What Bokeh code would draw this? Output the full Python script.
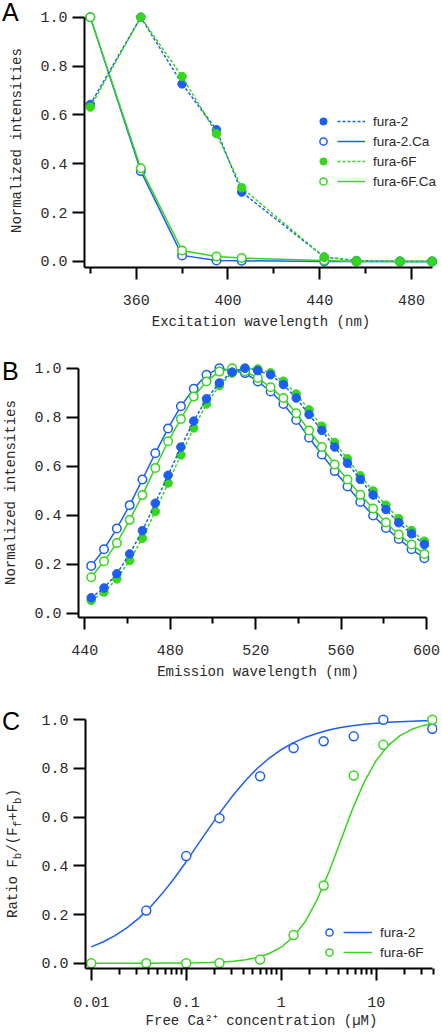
from bokeh.plotting import figure
from bokeh.models import (Range1d, FixedTicker, Legend, LegendItem,
                          CustomJSTickFormatter, Div)
from bokeh.layouts import column, row
from bokeh.embed import file_html
from bokeh.resources import INLINE

# ---------------- data ----------------
# Panel A: excitation spectra
ex_wl = [340, 362, 380, 395, 406, 442, 456, 475, 489]
ex_fura2 = [0.643, 1.0, 0.727, 0.539, 0.284, 0.018, 0.004, 0.0, 0.0]
ex_fura2_ca = [1.0, 0.370, 0.025, 0.004, 0.003, 0.0, 0.0, 0.0, 0.0]
ex_fura6f = [0.632, 1.0, 0.757, 0.523, 0.302, 0.018, 0.003, 0.0, 0.0]
ex_fura6f_ca = [1.0, 0.382, 0.045, 0.020, 0.014, 0.004, 0.0, 0.0, 0.0]

# Panel B: emission spectra
em_wl = [443, 449, 455, 461, 467, 473, 479, 485, 491, 497, 503, 509, 515, 521,
         527, 533, 539, 545, 551, 557, 563, 569, 575, 581, 587, 593, 599]
em_fura2 = [0.063, 0.103, 0.161, 0.242, 0.337, 0.449, 0.563, 0.678, 0.784, 0.875,
            0.940, 0.984, 1.0, 0.990, 0.973, 0.933, 0.878, 0.811, 0.746, 0.678,
            0.612, 0.546, 0.482, 0.423, 0.369, 0.324, 0.280]
em_fura2_ca = [0.193, 0.261, 0.346, 0.441, 0.546, 0.653, 0.754, 0.845, 0.916, 0.973,
               1.0, 0.990, 0.980, 0.946, 0.905, 0.854, 0.789, 0.716, 0.648, 0.580,
               0.517, 0.454, 0.399, 0.348, 0.303, 0.261, 0.224]
em_fura6f = [0.052, 0.086, 0.140, 0.215, 0.306, 0.415, 0.531, 0.646, 0.756, 0.854,
             0.929, 0.980, 1.0, 0.997, 0.981, 0.947, 0.895, 0.830, 0.763, 0.697,
             0.630, 0.561, 0.499, 0.441, 0.386, 0.337, 0.294]
em_fura6f_ca = [0.147, 0.212, 0.286, 0.381, 0.482, 0.593, 0.702, 0.793, 0.884, 0.946,
                0.986, 1.0, 0.988, 0.960, 0.922, 0.878, 0.816, 0.746, 0.678, 0.607,
                0.546, 0.483, 0.427, 0.370, 0.321, 0.280, 0.242]

# Panel C: calcium titration
conc_fura2 = [0.038, 0.1, 0.224, 0.6, 1.35, 2.8, 5.8, 11.9, 39.0]
ratio_fura2 = [0.216, 0.440, 0.596, 0.768, 0.884, 0.912, 0.932, 1.0, 0.963]
conc_fura6f = [0.01, 0.038, 0.1, 0.224, 0.6, 1.35, 2.8, 5.8, 11.9, 39.0]
ratio_fura6f = [0.0, 0.0, 0.0, 0.001, 0.015, 0.116, 0.319, 0.771, 0.897, 1.0]

fit_conc = [0.01, 0.0133, 0.0178, 0.0237, 0.0316, 0.0422, 0.0562, 0.075, 0.1, 0.133,
            0.178, 0.237, 0.316, 0.422, 0.562, 0.75, 1.0, 1.33, 1.78, 2.37, 3.16,
            4.22, 5.62, 7.5, 10.0, 13.3, 17.8, 23.7, 31.6, 39.4]
fit_fura2 = [0.067, 0.087, 0.113, 0.145, 0.184, 0.232, 0.287, 0.349, 0.417, 0.488,
             0.560, 0.629, 0.693, 0.751, 0.801, 0.843, 0.877, 0.905, 0.927, 0.944,
             0.958, 0.968, 0.976, 0.982, 0.986, 0.990, 0.992, 0.994, 0.996, 0.997]
fit_fura6f = [0.0, 0.0, 0.0, 0.0001, 0.0001, 0.0002, 0.0004, 0.0006, 0.001, 0.0017,
              0.0029, 0.0049, 0.0083, 0.014, 0.0237, 0.0397, 0.0657, 0.107, 0.169, 0.258,
              0.372, 0.502, 0.632, 0.745, 0.833, 0.894, 0.935, 0.961, 0.977, 0.985]

y_ticks = [0.0, 0.2, 0.4, 0.6, 0.8, 1.0]
a_x_ticks = [360, 400, 440, 480]
a_x_minor = [340, 380, 420, 460]
b_x_ticks = [440, 480, 520, 560, 600]
b_x_minor = [460, 500, 540, 580]
c_x_ticks = [0.01, 0.1, 1, 10]

# ---------------- style ----------------
BLUE = "#1d5ef2"
GREEN = "#36d61c"
MONO = "Liberation Mono"
SANS = "Liberation Sans"
TXT = "#2a2a2a"
W = 442
STRIP = 26          # left strip holding panel letter and y-axis title
MAIN_W = W - STRIP


def make_fig(height, xr, yr, left, top, bottom, right=5, x_axis_type="linear"):
    p = figure(width=MAIN_W, height=height, x_range=xr, y_range=yr,
               x_axis_type=x_axis_type, output_backend="svg",
               toolbar_location=None, min_border_left=left,
               min_border_right=right, min_border_top=top,
               min_border_bottom=bottom)
    p.grid.visible = False
    p.outline_line_color = None
    p.background_fill_color = "white"
    p.border_fill_color = "white"
    for ax in p.axis:
        ax.axis_line_width = 2
        ax.axis_line_color = "black"
        ax.major_tick_line_width = 2
        ax.minor_tick_line_width = 2
        ax.major_tick_line_color = "black"
        ax.minor_tick_line_color = "black"
        ax.major_tick_in = 0
        ax.major_tick_out = 12
        ax.minor_tick_in = 0
        ax.minor_tick_out = 6
        ax.major_label_text_font = MONO
        ax.major_label_text_font_size = "15px"
        ax.major_label_text_color = TXT
        ax.axis_label_text_font = MONO
        ax.axis_label_text_font_size = "14px"
        ax.axis_label_text_font_style = "normal"
        ax.axis_label_text_color = TXT
    p.yaxis.minor_tick_line_color = None
    p.yaxis.ticker = FixedTicker(ticks=y_ticks)
    p.yaxis.formatter = CustomJSTickFormatter(code="return tick.toFixed(1);")
    p.yaxis.major_label_standoff = 5
    return p


def letter_html(txt, baseline):
    # 25px sans, line-height 25px: baseline sits ~21px below the box top
    return (f'<span style="position:absolute;left:2px;top:{baseline - 21}px;'
            f"font-family:'{SANS}';font-size:25px;line-height:25px;color:#000;"
            f'white-space:nowrap;">{txt}</span>')


def vtitle_html(inner, baseline_x, bottom_y):
    # rotated (reads bottom-to-top); 14px mono with 14px line: baseline ~10.7px into the box
    return (f'<span style="position:absolute;left:{baseline_x - 10.7:.1f}px;'
            f'top:{bottom_y}px;transform-origin:0 0;transform:rotate(-90deg);'
            f"white-space:nowrap;font-family:'{MONO}';font-size:14px;"
            f'line-height:14px;color:{TXT};">{inner}</span>')


def strip_div(height, parts):
    html = (f'<div style="position:relative;width:{STRIP}px;height:{height}px;'
            f'overflow:visible;">' + "".join(parts) + "</div>")
    return Div(text=html, width=STRIP, height=height, margin=0)


def split_legend(p, entries, mx, lx, y, line_w):
    lm = Legend(items=[LegendItem(label=" ", renderers=[s]) for _, s, _ in entries],
                location=(mx, y), glyph_width=18, glyph_height=18, label_height=18,
                label_width=0, spacing=2, padding=0, margin=0, label_standoff=0,
                border_line_alpha=0, background_fill_alpha=0,
                label_text_font=SANS, label_text_font_size="13.5px")
    ll = Legend(items=[LegendItem(label=lab, renderers=[l]) for lab, _, l in entries],
                location=(lx, y), glyph_width=line_w, glyph_height=18, label_height=18,
                spacing=2, padding=0, margin=0, label_standoff=8,
                border_line_alpha=0, background_fill_alpha=0,
                label_text_font=SANS, label_text_font_size="13.5px",
                label_text_color=TXT)
    p.add_layout(lm)
    p.add_layout(ll)


# ---------------- Panel A ----------------
HA = 336
pA = make_fig(HA, Range1d(337.46, 491.34), Range1d(-0.0246, 1.0233),
              left=84 - STRIP, top=11, bottom=69)
pA.xaxis.ticker = FixedTicker(ticks=a_x_ticks, minor_ticks=a_x_minor)
pA.xaxis.bounds = (337.46, 489.3)
pA.yaxis.bounds = (-0.0246, 1.0)
pA.xaxis.axis_label = "Excitation wavelength (nm)"
pA.xaxis.major_label_standoff = 15
pA.xaxis.axis_label_standoff = 6

la2c = pA.line(ex_wl, ex_fura2_ca, line_color=BLUE, line_width=1.5)
sa2c = pA.scatter(ex_wl, ex_fura2_ca, size=8.5, fill_color="white",
                  line_color=BLUE, line_width=1.5)
la6c = pA.line(ex_wl, ex_fura6f_ca, line_color=GREEN, line_width=1.5)
sa6c = pA.scatter(ex_wl, ex_fura6f_ca, size=8.5, fill_color="white",
                  line_color=GREEN, line_width=1.5)
la2 = pA.line(ex_wl, ex_fura2, line_color=BLUE, line_width=1.5, line_dash="3 2")
sa2 = pA.scatter(ex_wl, ex_fura2, size=8.5, fill_color=BLUE, line_color=BLUE)
la6 = pA.line(ex_wl, ex_fura6f, line_color=GREEN, line_width=1.5, line_dash="3 2")
sa6 = pA.scatter(ex_wl, ex_fura6f, size=8.5, fill_color=GREEN, line_color=GREEN)

split_legend(pA, [("fura-2", sa2, la2), ("fura-2.Ca", sa2c, la2c),
                  ("fura-6F", sa6, la6), ("fura-6F.Ca", sa6c, la6c)],
             mx=230, lx=253, y=77, line_w=28)

sA = strip_div(HA, [letter_html("A", 21),
                    vtitle_html("Normalized intensities", 20.5, 233)])

# ---------------- Panel B ----------------
HB = 354
pB = make_fig(HB, Range1d(437.05, 605.15), Range1d(-0.0176, 1.0314),
              left=78 - STRIP, top=24, bottom=73)
pB.xaxis.ticker = FixedTicker(ticks=b_x_ticks, minor_ticks=b_x_minor)
pB.xaxis.bounds = (437.05, 600)
pB.yaxis.bounds = (-0.0176, 1.0)
pB.xaxis.axis_label = "Emission wavelength (nm)"
pB.xaxis.major_label_standoff = 15
pB.xaxis.axis_label_standoff = 6

pB.line(em_wl, em_fura2_ca, line_color=BLUE, line_width=1.5)
pB.scatter(em_wl, em_fura2_ca, size=8.5, fill_color="white", line_color=BLUE, line_width=1.5)
pB.line(em_wl, em_fura6f_ca, line_color=GREEN, line_width=1.5)
pB.scatter(em_wl, em_fura6f_ca, size=8.5, fill_color="white", line_color=GREEN, line_width=1.5)
pB.line(em_wl, em_fura6f, line_color=GREEN, line_width=1.5, line_dash="3 2")
pB.scatter(em_wl, em_fura6f, size=8.5, fill_color=GREEN, line_color=GREEN)
pB.line(em_wl, em_fura2, line_color=BLUE, line_width=1.5, line_dash="3 2")
pB.scatter(em_wl, em_fura2, size=8.5, fill_color=BLUE, line_color=BLUE)

sB = strip_div(HB, [letter_html("B", 44),
                    vtitle_html("Normalized intensities", 15, 249)])

# ---------------- Panel C ----------------
HC = 343
pC = make_fig(HC, Range1d(0.00871, 44.2), Range1d(-0.0218, 1.030),
              left=85 - STRIP, top=22, bottom=65, x_axis_type="log")
pC.xaxis.ticker = FixedTicker(
    ticks=c_x_ticks,
    minor_ticks=[m * d for d in (0.01, 0.1, 1, 10) for m in range(2, 10)])
pC.xaxis.formatter = CustomJSTickFormatter(code="return String(tick);")
pC.xaxis.bounds = (0.00871, 39.4)
pC.yaxis.bounds = (-0.0218, 1.0)
pC.xaxis.axis_label = "Free Ca\u00b2\u207a concentration (\u00b5M)"
pC.xaxis.major_label_standoff = 16
pC.xaxis.axis_label_standoff = 3

lc2 = pC.line(fit_conc, fit_fura2, line_color=BLUE, line_width=1.5)
sc2 = pC.scatter(conc_fura2, ratio_fura2, size=9, fill_color="white",
                 line_color=BLUE, line_width=1.5)
lc6 = pC.line(fit_conc, fit_fura6f, line_color=GREEN, line_width=1.5)
sc6 = pC.scatter(conc_fura6f, ratio_fura6f, size=9, fill_color="white",
                 line_color=GREEN, line_width=1.5)
split_legend(pC, [("fura-2", sc2, lc2), ("fura-6F", sc6, lc6)],
             mx=235, lx=258, y=7, line_w=29)

SUB = '<span style="font-size:11px;line-height:11px;vertical-align:-4px;">{}</span>'
ratio_label = "Ratio F" + SUB.format("b") + "/(F" + SUB.format("f") + "+F" + SUB.format("b") + ")"
sC = strip_div(HC, [letter_html("C", 40), vtitle_html(ratio_label, 16.5, 228)])

layout = column(row(sA, pA), row(sB, pB), row(sC, pC))
open("out.html", "w").write(file_html(layout, INLINE))
